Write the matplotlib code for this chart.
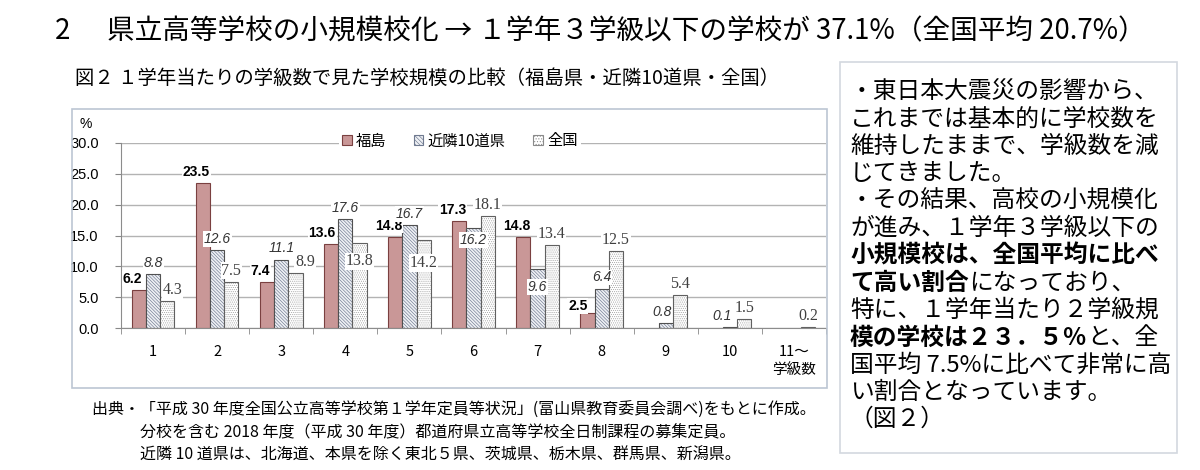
import numpy as np
import matplotlib.pyplot as plt
from matplotlib.patches import Patch, Rectangle

plt.rcParams['font.family'] = ['Noto Sans CJK JP', 'DejaVu Sans']
plt.rcParams['hatch.linewidth'] = 0.45

# data
categories = ['1', '2', '3', '4', '5', '6', '7', '8', '9', '10', '11～\n学級数']
fukushima = [6.2, 23.5, 7.4, 13.6, 14.8, 17.3, 14.8, 2.5, np.nan, np.nan, np.nan]
kinrin = [8.8, 12.6, 11.1, 17.6, 16.7, 16.2, 9.6, 6.4, 0.8, 0.1, np.nan]
zenkoku = [4.3, 7.5, 8.9, 13.8, 14.2, 18.1, 13.4, 12.5, 5.4, 1.5, 0.2]
series_names = ['福島', '近隣10道県', '全国']

title_no = '2'
title = '県立高等学校の小規模校化 → １学年３学級以下の学校が 37.1%（全国平均 20.7%）'
subtitle = '図２ １学年当たりの学級数で見た学校規模の比較（福島県・近隣10道県・全国）'
notes = ['出典・「平成 30 年度全国公立高等学校第１学年定員等状況」(富山県教育委員会調べ)をもとに作成。',
         '分校を含む 2018 年度（平成 30 年度）都道府県立高等学校全日制課程の募集定員。',
         '近隣 10 道県は、北海道、本県を除く東北５県、茨城県、栃木県、群馬県、新潟県。']
# right side comment, each line is a list of (text, bold)
side_lines = [
    [('・東日本大震災の影響から、', False)],
    [('これまでは基本的に学校数を', False)],
    [('維持したままで、学級数を減', False)],
    [('じてきました。', False)],
    [('・その結果、高校の小規模化', False)],
    [('が進み、１学年３学級以下の', False)],
    [('小規模校は、全国平均に比べ', True)],
    [('て高い割合', True), ('になっており、', False)],
    [('特に、１学年当たり２学級規', False)],
    [('模の学校は２３．５％', True), ('と、全', False)],
    [('国平均 7.5%に比べて非常に高', False)],
    [('い割合となっています。', False)],
    [('（図２）', False)],
]

W, H = 1200, 470
fig = plt.figure(figsize=(12, 4.7), dpi=100)


def fx(x):
    return x / W


def fy(y):
    return 1 - y / H


def fit_width(t, width_px):
    r = fig.canvas.get_renderer()
    w = t.get_window_extent(r).width
    t.set_fontsize(t.get_fontsize() * width_px / w)


# frames
fig.add_artist(Rectangle((fx(72), fy(388)), (827 - 72) / W, (388 - 109) / H,
                         transform=fig.transFigure, fill=False, edgecolor='#bcc6d3', lw=1.2))
fig.add_artist(Rectangle((fx(840), fy(453)), (1177 - 840) / W, (453 - 62) / H,
                         transform=fig.transFigure, fill=False, edgecolor='#d3d8df', lw=1.2))

ax = fig.add_axes([fx(121), fy(328), 705 / W, 185 / H])
x = np.arange(len(categories))
bw = 0.222

fk = np.array(fukushima)
kn = np.array(kinrin)
zk = np.array(zenkoku)

ax.bar(x - bw, fk, bw, color='#c99797', edgecolor='#7a4040', lw=0.8, zorder=2)
# hatched bars: fill + hatch first, outline on top
ax.bar(x, kn, bw, color='#eef0f4', edgecolor='#6f7a90', hatch='\\' * 10, lw=0, zorder=2)
ax.bar(x, kn, bw, fill=False, edgecolor='#505050', lw=0.8, zorder=2)
ax.bar(x + bw, zk, bw, color='white', edgecolor='#a0a0a0', hatch='.' * 8, lw=0, zorder=2)
ax.bar(x + bw, zk, bw, fill=False, edgecolor='#606060', lw=0.8, zorder=2)

ax.set_xlim(-0.5, len(categories) - 0.5)
ax.set_ylim(0, 30)
ax.set_yticks(np.arange(0, 31, 5))
ax.set_yticklabels(['%.1f' % v for v in np.arange(0, 31, 5)], family='Liberation Sans', fontsize=10.5)
ax.set_xticks(x)
ax.set_xticklabels(categories, fontsize=10.5, linespacing=1.4)
ax.set_xticks(np.arange(-0.5, len(categories), 1), minor=True)
ax.tick_params(axis='x', which='major', length=0, pad=12)
ax.tick_params(axis='x', which='minor', length=4, color='#888888', direction='out')
ax.tick_params(axis='y', length=4, color='#888888', pad=12)
ax.grid(axis='y', color='#b3b3b3', lw=1)
ax.set_axisbelow(True)
for s in ['top', 'right']:
    ax.spines[s].set_visible(False)
ax.spines['left'].set_color('#8c8c8c')
ax.spines['bottom'].set_color('#8c8c8c')
ax.text(-0.05, 1.105, '%', transform=ax.transAxes, ha='center', va='center',
        fontsize=10, family='Liberation Sans')

# value labels
box = dict(facecolor='white', edgecolor='none', pad=0.6)
lab_off = 1.8
label_dy = {(1, 5): -1.9, (1, 6): -3.0, (2, 3): -3.0, (2, 4): -3.7, (0, 7): 1.1}
label_dx = {0: -0.1, 1: 0.0, 2: 0.0}
label_dx_one = {(1, 9): -0.12, (1, 8): -0.06, (2, 2): 0.15, (2, 0): 0.08, (0, 3): -0.04, (0, 7): -0.05}
styles = [dict(fontweight='bold', family='Liberation Sans', fontsize=10, color='black'),
          dict(style='italic', family='Liberation Sans', fontsize=10, color='#333333'),
          dict(family='Liberation Serif', fontsize=11.5, color='#404040')]
for k, (vals, dx) in enumerate([(fk, -bw), (kn, 0), (zk, bw)]):
    for i, v in enumerate(vals):
        if np.isnan(v):
            continue
        yy = v + label_dy.get((k, i), lab_off)
        xx = i + dx + label_dx[k] + label_dx_one.get((k, i), 0)
        ax.text(xx, yy, '%.1f' % v, ha='center', va='center', bbox=box, zorder=4, **styles[k])

# legend
handles = [Patch(facecolor='#c99797', edgecolor='#7a4040', lw=0.8),
           Patch(facecolor='#eef0f4', edgecolor='#6f7a90', hatch='\\' * 8, lw=0.8),
           Patch(facecolor='white', edgecolor='#8a8a8a', hatch='.' * 6, lw=0.8)]
fig.legend(handles, series_names, loc='center', bbox_to_anchor=(fx(460), fy(141)), ncol=3,
           fontsize=11, handlelength=0.6, handleheight=0.6, handletextpad=0.3,
           columnspacing=1.8, frameon=True, facecolor='white', edgecolor='none',
           framealpha=1, borderpad=0.2, fancybox=False)

# titles
fig.text(fx(55), fy(31), title_no, fontsize=20, va='center', ha='left')
t = fig.text(fx(107), fy(31), title, fontsize=20, va='center', ha='left')
fit_width(t, 1038)
t = fig.text(fx(75), fy(78), subtitle, fontsize=14, va='center', ha='left')
fit_width(t, 705)

# notes
t = fig.text(fx(92), fy(410), notes[0], fontsize=11, va='center', ha='left')
fit_width(t, 723)
fs = t.get_fontsize()
fig.text(fx(140), fy(433), notes[1], fontsize=fs, va='center', ha='left')
fig.text(fx(140), fy(455), notes[2], fontsize=fs, va='center', ha='left')

# side text
side_fs = 17.1
em = side_fs * 100 / 72
for j, line in enumerate(side_lines):
    xx = 850
    for txt, bold in line:
        fig.text(fx(xx), fy(92 + j * 27.3), txt, fontsize=side_fs, va='center', ha='left',
                 fontweight='bold' if bold else 'normal')
        xx += len(txt) * em

fig.savefig('out.png', dpi=100)
